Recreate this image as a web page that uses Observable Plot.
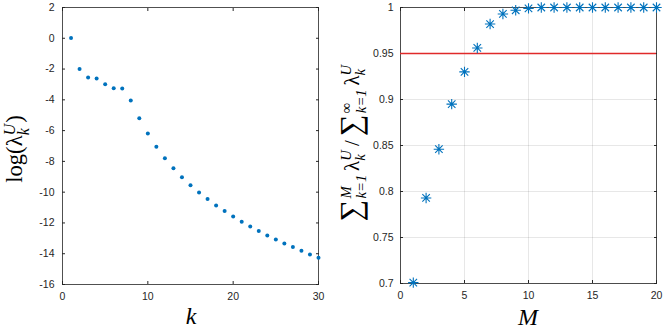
<!DOCTYPE html>
<html>
<head>
<meta charset="utf-8">
<script src="https://cdn.jsdelivr.net/npm/d3@7"></script>
<script src="https://cdn.jsdelivr.net/npm/@observablehq/plot@0.6"></script>
<style>
  html, body { margin: 0; padding: 0; background: #fff; }
  #wrap { display: flex; width: 664px; height: 330px; }
  svg { display: block; }
</style>
</head>
<body>
<div id="wrap"></div>
<script>
// ---- data ----
const kValues = [1,2,3,4,5,6,7,8,9,10,11,12,13,14,15,16,17,18,19,20,21,22,23,24,25,26,27,28,29,30];
const logLambda = [0.02,-2.0,-2.55,-2.61,-2.98,-3.24,-3.26,-4.04,-5.19,-6.19,-7.05,-7.79,-8.44,-9.03,-9.55,-10.02,-10.45,-10.87,-11.23,-11.58,-11.93,-12.23,-12.53,-12.81,-13.07,-13.33,-13.57,-13.81,-14.05,-14.26];
const mValues = [1,2,3,4,5,6,7,8,9,10,11,12,13,14,15,16,17,18,19,20];
const cumRatio = [0.701,0.793,0.846,0.895,0.930,0.956,0.982,0.993,0.997,0.999,1,1,1,1,1,1,1,1,1,1];
const threshold = [0.95];
const leftXTicks = [0,10,20,30];
const leftYTicks = [-16,-14,-12,-10,-8,-6,-4,-2,0,2];
const rightXTicks = [0,5,10,15,20];
const rightYTicks = [0.7,0.75,0.8,0.85,0.9,0.95,1];

const blue = "#0072BD";
const red = "#e02a2a";
const axisColor = "#262626";
const tickFont = "'Liberation Sans', Arial, Helvetica, sans-serif";

const leftData = kValues.map((k, i) => ({k, v: logLambda[i]}));
const rightData = mValues.map((m, i) => ({m, v: cumRatio[i]}));
const thresholdData = threshold.map(t => ({t}));

function boxAxes(xTicks, yTicks, padX, padY) {
  const fmt = d => String(d);
  const common = {tickSize: 3, stroke: axisColor, label: null};
  return [
    Plot.axisX(xTicks, {anchor: "bottom", tickSize: 0, tickPadding: padX, tickFormat: fmt, label: null, fill: axisColor, fontSize: 10.5}),
    Plot.axisY(yTicks, {anchor: "left", tickSize: 0, tickPadding: padY, tickFormat: fmt, label: null, fill: axisColor, fontSize: 10.5}),
    Plot.axisX(xTicks, {...common, anchor: "bottom", dy: -3, text: null}),
    Plot.axisX(xTicks, {...common, anchor: "top", dy: 3, text: null}),
    Plot.axisY(yTicks, {...common, anchor: "left", dx: 3, text: null}),
    Plot.axisY(yTicks, {...common, anchor: "right", dx: -3, text: null}),
    Plot.frame({stroke: axisColor, strokeWidth: 0.8})
  ];
}

const left = Plot.plot({
  width: 332, height: 330,
  marginLeft: 62, marginRight: 14, marginTop: 7, marginBottom: 46,
  style: {fontFamily: tickFont, fontSize: "10.5px", background: "#fff"},
  x: {domain: [0, 30]},
  y: {domain: [-16, 2]},
  marks: [
    ...boxAxes(leftXTicks, leftYTicks, 8, 8),
    Plot.dot(leftData, {x: "k", y: "v", r: 2, fill: blue, stroke: "none"})
  ]
});

const star8 = {
  draw(ctx, size) {
    const r = Math.sqrt(size / Math.PI);
    const d = r * 0.72;
    ctx.moveTo(-r, 0); ctx.lineTo(r, 0);
    ctx.moveTo(0, -r); ctx.lineTo(0, r);
    ctx.moveTo(-d, -d); ctx.lineTo(d, d);
    ctx.moveTo(-d, d); ctx.lineTo(d, -d);
  }
};

const right = Plot.plot({
  width: 332, height: 330,
  marginLeft: 68, marginRight: 8, marginTop: 7, marginBottom: 47,
  style: {fontFamily: tickFont, fontSize: "10.5px", background: "#fff"},
  x: {domain: [0, 20]},
  y: {domain: [0.7, 1]},
  marks: [
    Plot.gridX(rightXTicks, {stroke: "#000", strokeOpacity: 0.12, strokeWidth: 0.8}),
    Plot.gridY(rightYTicks, {stroke: "#000", strokeOpacity: 0.12, strokeWidth: 0.8}),
    ...boxAxes(rightXTicks, rightYTicks, 8, 7),
    Plot.ruleY(thresholdData, {y: "t", stroke: red, strokeWidth: 1.3}),
    Plot.dot(rightData, {x: "m", y: "v", r: 5.2, symbol: star8, fill: "none", stroke: blue, strokeWidth: 1.1})
  ]
});

const wrap = document.getElementById("wrap");
wrap.appendChild(left);
wrap.appendChild(right);

const serif = "'Liberation Serif', 'Times New Roman', serif";

// Single <text> with flowing tspans; segments carry baseline shift (em, + = down), size, italic, dx
function mathLabel(svgNode, x, y, fs, segs) {
  const text = d3.select(svgNode).append("text")
    .attr("transform", `translate(${x},${y}) rotate(-90)`)
    .attr("text-anchor", "middle")
    .attr("font-family", serif)
    .attr("font-size", fs)
    .attr("fill", "#000");
  let cur = 0;
  for (const s of segs) {
    const shift = (s.shift || 0) * fs;
    const ts = text.append("tspan")
      .attr("font-size", fs * (s.scale || 1))
      .attr("font-style", s.it ? "italic" : "normal")
      .attr("dy", shift - cur)
      .text(s.t);
    if (s.dx) ts.attr("dx", s.dx * fs);
    cur = shift;
  }
}

const sub = 0.7;        // script size ratio
const subShift = 0.3;   // subscript baseline shift (em of main)
const supShift = -0.4;  // superscript baseline shift

// left y label: log(λ_k^U)
mathLabel(left, 22, 149, 22.5, [
  {t: "log("},
  {t: "λ", dx: 0.02},
  {t: "k", it: true, scale: sub, shift: subShift},
  {t: "U", it: true, scale: sub, shift: -0.32, dx: -0.444 * sub},
  {t: ")", dx: 0.05}
]);
// left x label: k
d3.select(left).append("text").attr("x", 191).attr("y", 324)
  .attr("text-anchor", "middle").attr("font-family", serif).attr("font-style", "italic")
  .attr("font-size", 24).attr("fill", "#000").text("k");

// right y label: ∑_{k=1}^M λ_k^U / ∑_{k=1}^∞ λ_k^U
const kEq1 = 1.62 * sub; // width of "k=1" in em of main size
mathLabel(right, 27, 143, 21, [
  {t: "∑", scale: 1.45, shift: 0.08},
  {t: "k=1", it: true, scale: sub, shift: 0.32, dx: 0.05},
  {t: "M", it: true, scale: sub, shift: supShift, dx: -kEq1},
  {t: "λ", dx: kEq1 - 0.833 * sub + 0.18},
  {t: "k", it: true, scale: sub, shift: subShift},
  {t: "U", it: true, scale: sub, shift: supShift, dx: -0.444 * sub},
  {t: "/", dx: 0.2},
  {t: "∑", scale: 1.45, shift: 0.08, dx: 0.2},
  {t: "k=1", it: true, scale: sub, shift: 0.32, dx: 0.05},
  {t: "∞", scale: sub, shift: supShift, dx: -kEq1},
  {t: "λ", dx: kEq1 - 0.713 * sub + 0.18},
  {t: "k", it: true, scale: sub, shift: subShift},
  {t: "U", it: true, scale: sub, shift: supShift, dx: -0.444 * sub}
]);
// right x label: M
d3.select(right).append("text").attr("x", 196).attr("y", 325)
  .attr("text-anchor", "middle").attr("font-family", serif).attr("font-style", "italic")
  .attr("font-size", 24).attr("fill", "#000").text("M");
</script>
</body>
</html>
